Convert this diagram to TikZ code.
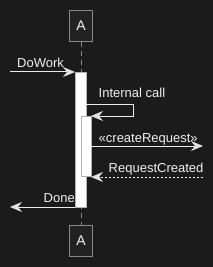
\documentclass[tikz,border=0pt]{standalone}
\usepackage{fontspec}
\setmainfont{Liberation Sans}
\usetikzlibrary{arrows.meta}
\definecolor{bg}{RGB}{27,27,27}
\definecolor{boxfill}{RGB}{34,34,34}
\definecolor{boxline}{RGB}{136,136,136}
\definecolor{msgline}{RGB}{235,235,235}
\definecolor{tip}{RGB}{225,225,225}
\definecolor{txt}{RGB}{240,240,240}
\tikzset{
  partbox/.style={draw=boxline, fill=boxfill, line width=0.8pt, minimum width=23pt, minimum height=31pt, inner sep=0pt, text=txt, font=\fontsize{14}{16}\selectfont},
  lifeline/.style={draw=boxline, line width=0.8pt, dash pattern=on 5pt off 4pt},
  actbar/.style={draw=gray!60, fill=white, line width=0.6pt},
  msg/.style={draw=msgline, line width=1pt, -{Stealth[length=12pt,width=10pt,inset=4pt,color=tip]}},
  retmsg/.style={msg, dash pattern=on 2pt off 2pt},
  lbl/.style={text=txt, font=\fontsize{13}{15}\selectfont, inner sep=0pt, anchor=base west}
}
\begin{document}
\begin{tikzpicture}[x=1pt,y=-1pt]
\fill[bg] (0,0) rectangle (213,267);
\useasboundingbox (0,0) rectangle (213,267);
% participants
\node[partbox] (topA) at (81,26) {A};
\node[partbox] (botA) at (81,240.5) {A};
\draw[lifeline] (topA.south) -- (botA.north);
% activations
\path[actbar] (75,72) rectangle (86,207);
\coordinate (b1tl) at (75,72);
\coordinate (b1r1) at (86,104);
\coordinate (b1bl) at (75,207);
\path[actbar] (81,116.7) rectangle (91,176.7);
\coordinate (b2r1) at (91,116);
\coordinate (b2r2) at (91,146);
\coordinate (b2r3) at (91,177);
% free ends
\coordinate (inL) at (10,72);
\coordinate (outL) at (10,207);
\coordinate (extR1) at (203,146);
\coordinate (extR2) at (203,177);
\coordinate (selfA) at (133,104);
\coordinate (selfB) at (133,116);
% messages
\draw[msg] (inL) -- (b1tl);
\node[lbl] (l1) at (17,68) {DoWork};
\draw[msg] (b1r1) -- (selfA) -- (selfB) -- (b2r1);
\node[lbl] (l2) at (98.5,97.5) {Internal call};
\draw[msg] (b2r2) -- (extR1);
\node[lbl] (l3) at (98.5,142) {«createRequest»};
\draw[retmsg] (extR2) -- (b2r3);
\node[lbl] (l4) at (108.5,172.5) {RequestCreated};
\draw[msg] (b1bl) -- (outL);
\node[lbl] (l5) at (43.5,202.5) {Done};
\end{tikzpicture}
\end{document}
